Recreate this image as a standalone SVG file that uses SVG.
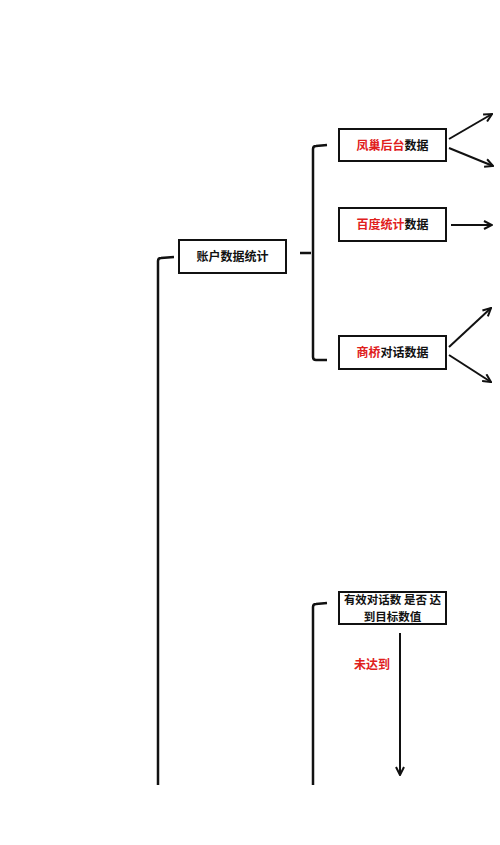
<svg xmlns="http://www.w3.org/2000/svg" width="500" height="845" viewBox="0 0 500 845">
<style>
.box{fill:#fff;stroke:#111;stroke-width:2}
.t{font-family:"Noto Sans CJK SC","Noto Sans",sans-serif;font-size:12px;font-weight:bold;fill:#111;text-anchor:middle}
.s{font-size:11.5px}
.r{fill:#e0201c}
.ln{fill:none;stroke:#111;stroke-width:2.5;stroke-linejoin:round;stroke-linecap:butt}
.ar{fill:none;stroke:#111;stroke-width:2;marker-end:url(#ah)}
</style>
<defs>
<marker id="ah" viewBox="0 0 10 10" refX="9" refY="5" markerWidth="5" markerHeight="5" orient="auto" markerUnits="strokeWidth">
<path d="M1,1 L9,5 L1,9" fill="none" stroke="#111" stroke-width="2"/>
</marker>
</defs>
<rect width="500" height="845" fill="#fff"/>
<g id="connectors">
<path class="ln" d="M174,257 L161,258 Q158,258 158,261 L158,785"/>
<path class="ln" d="M300,253 L311,253 M327,145 L316,146 Q313,146 313,149 L313,357 Q313,360 316,360 L327,360"/>
<path class="ln" d="M327,603 L316,604 Q313,604 313,607 L313,785"/>
<line class="ar" x1="449" y1="139" x2="492" y2="114"/>
<line class="ar" x1="449" y1="148" x2="493" y2="166"/>
<line class="ar" x1="451" y1="225" x2="492" y2="225"/>
<line class="ar" x1="449" y1="347" x2="491" y2="308"/>
<line class="ar" x1="449" y1="355" x2="491" y2="382"/>
<line class="ar" x1="400" y1="633" x2="400" y2="775"/>
<text class="t r" x="372" y="669">未达到</text>
</g>
<g id="n_account">
<rect class="box" x="179" y="240" width="107" height="33"/>
<text class="t" x="232.5" y="261">账户数据统计</text>
</g>
<g id="n_fengchao">
<rect class="box" x="339" y="129" width="107" height="32"/>
<text class="t" x="392.5" y="149.5"><tspan class="r">凤巢后台</tspan>数据</text>
</g>
<g id="n_baidu">
<rect class="box" x="339" y="208" width="107" height="33"/>
<text class="t" x="392.5" y="229"><tspan class="r">百度统计</tspan>数据</text>
</g>
<g id="n_shangqiao">
<rect class="box" x="339" y="336" width="107" height="33"/>
<text class="t" x="392.5" y="357"><tspan class="r">商桥</tspan>对话数据</text>
</g>
<g id="n_target">
<rect class="box" x="339" y="592" width="107" height="32"/>
<text class="t s" x="392.5" y="603.5">有效对话数 是否 达</text>
<text class="t s" x="392.5" y="620.5">到目标数值</text>
</g>
</svg>
